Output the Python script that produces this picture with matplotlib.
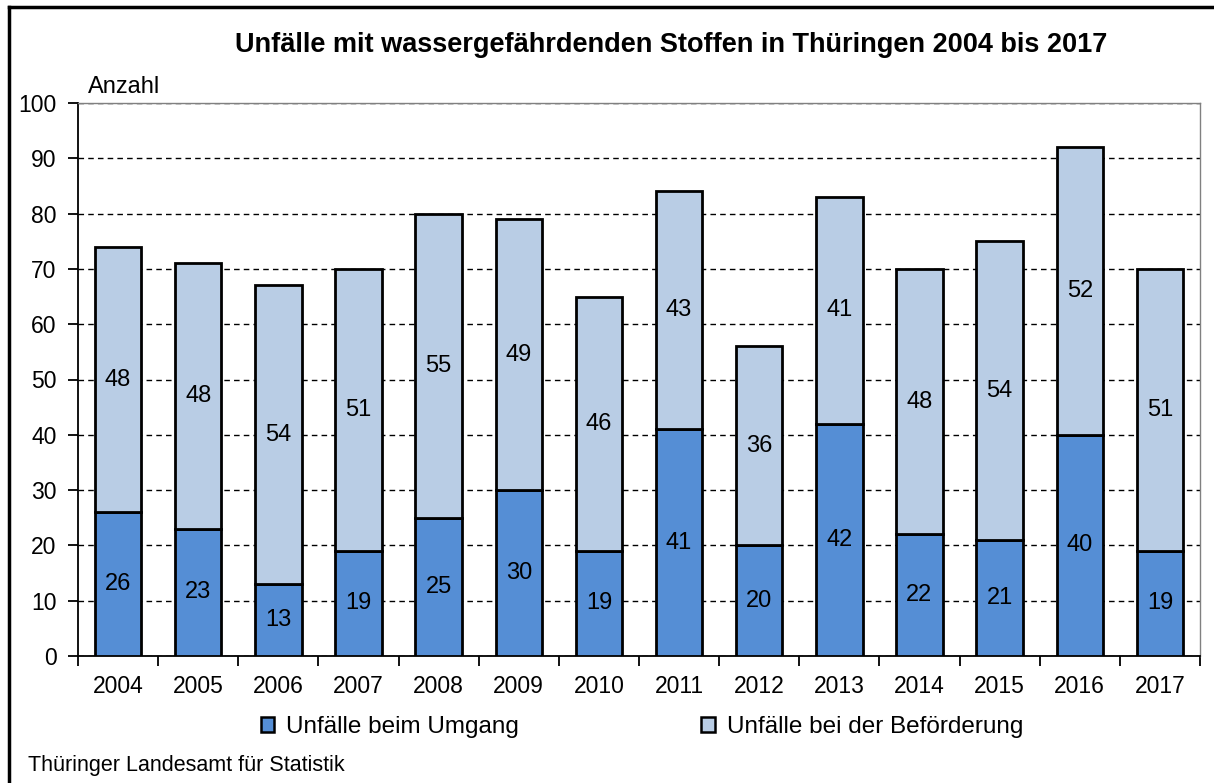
import matplotlib.pyplot as plt
import numpy as np
from matplotlib.patches import Patch
from matplotlib.lines import Line2D

plt.rcParams['font.family'] = ['Liberation Sans', 'DejaVu Sans']

jahre = ["2004", "2005", "2006", "2007", "2008", "2009", "2010",
         "2011", "2012", "2013", "2014", "2015", "2016", "2017"]
umgang = [26, 23, 13, 19, 25, 30, 19, 41, 20, 42, 22, 21, 40, 19]
befoerderung = [48, 48, 54, 51, 55, 49, 46, 43, 36, 41, 48, 54, 52, 51]

farbe_umgang = "#558ED5"
farbe_befoerderung = "#B9CDE5"

fig = plt.figure(figsize=(12.14, 7.83), dpi=100)
ax = fig.add_axes([78/1214, 1 - 656/783, (1200 - 78)/1214, (656 - 103)/783])

x = np.arange(len(jahre))
ax.bar(x, umgang, width=0.58, color=farbe_umgang, edgecolor="black",
       linewidth=2, zorder=3)
ax.bar(x, befoerderung, width=0.58, bottom=umgang, color=farbe_befoerderung,
       edgecolor="black", linewidth=2, zorder=3)

for xi, u, b in zip(x, umgang, befoerderung):
    ax.text(xi, u / 2, f"{u}", ha="center", va="center", fontsize=17, zorder=4)
    ax.text(xi, u + b / 2, f"{b}", ha="center", va="center", fontsize=17, zorder=4)

ax.set_xlim(-0.5, len(jahre) - 0.5)
ax.set_ylim(0, 100)
ax.set_yticks(np.arange(0, 101, 10))
ax.set_xticks(x)
ax.set_xticklabels(jahre)
ax.set_xticks(np.arange(-0.5, len(jahre), 1), minor=True)
ax.tick_params(axis="x", which="major", length=0, pad=14, labelsize=16.5)
ax.tick_params(axis="x", which="minor", length=7, width=1.3, direction="out")
ax.tick_params(axis="y", length=7, width=1.3, direction="out", pad=8.5, labelsize=16.5)

ax.grid(axis="y", color="black", linestyle=(0, (4, 3)), linewidth=1, zorder=1)
ax.spines["left"].set_linewidth(1.3)
ax.spines["bottom"].set_linewidth(1.3)
ax.spines["right"].set_color("#808080")
ax.spines["top"].set_color("#808080")
ax.spines["right"].set_linewidth(1)
ax.spines["top"].set_linewidth(1)

fig.text(88/1214, 1 - 87/783, "Anzahl", fontsize=17, va="center", ha="left")
fig.text(671/1214, 1 - 45/783,
         "Unfälle mit wassergefährdenden Stoffen in Thüringen 2004 bis 2017",
         fontsize=19.5, fontweight="bold", ha="center", va="center")
fig.text(28/1214, 1 - 765/783, "Thüringer Landesamt für Statistik",
         fontsize=15.5, ha="left", va="center")

handles = [Patch(facecolor=farbe_umgang, edgecolor="black", linewidth=1.8),
           Patch(facecolor=farbe_befoerderung, edgecolor="black", linewidth=1.8)]
fig.legend(handles, ["Unfälle beim Umgang", "Unfälle bei der Beförderung"],
           loc="center", bbox_to_anchor=(642/1214, 1 - 727/783), ncol=2,
           frameon=False, fontsize=17.5, handlelength=0.55, handleheight=0.55,
           handletextpad=0.5, columnspacing=7.5)

# Rahmen um die Grafik (nur links und oben sichtbar)
fig.add_artist(Line2D([9/1214, 1.01], [1 - 7/783, 1 - 7/783], color="black",
                      linewidth=2.5, transform=fig.transFigure))
fig.add_artist(Line2D([9/1214, 9/1214], [-0.01, 1 - 7/783], color="black",
                      linewidth=2.5, transform=fig.transFigure))

fig.savefig("out.png", dpi=100)
